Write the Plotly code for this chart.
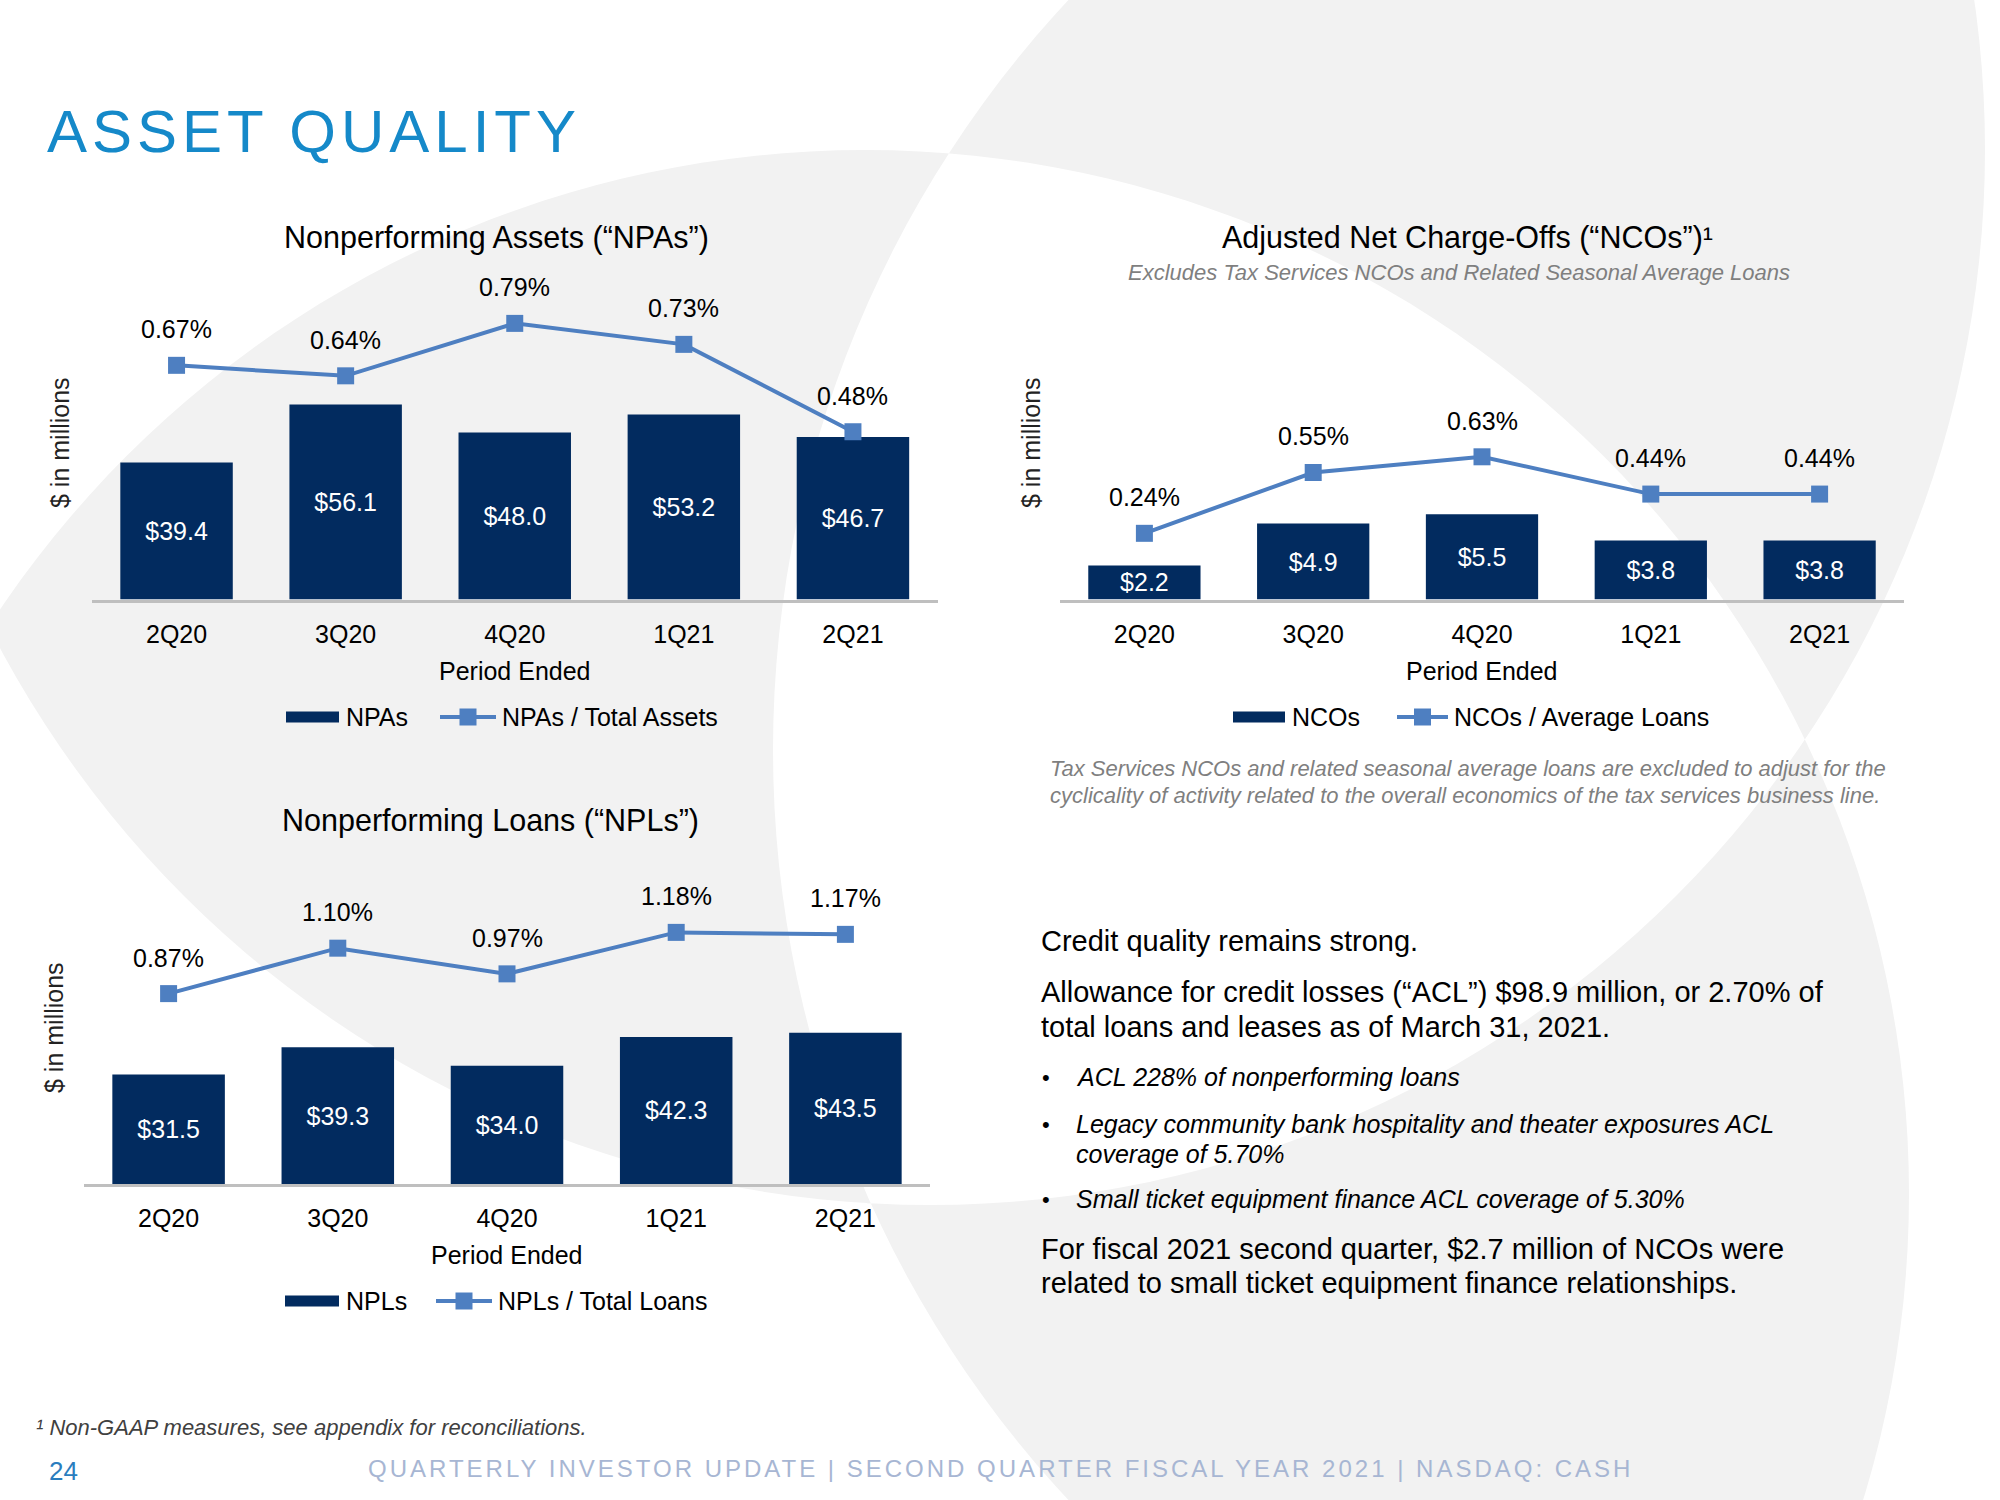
import numpy as np
import plotly.graph_objects as go

W, H = 2000, 1500

# ---------------- data ----------------
quarters = ["2Q20", "3Q20", "4Q20", "1Q21", "2Q21"]
npa_values = [39.4, 56.1, 48.0, 53.2, 46.7]
npa_ratio = [0.67, 0.64, 0.79, 0.73, 0.48]
nco_values = [2.2, 4.9, 5.5, 3.8, 3.8]
nco_ratio = [0.24, 0.55, 0.63, 0.44, 0.44]
npl_values = [31.5, 39.3, 34.0, 42.3, 43.5]
npl_ratio = [0.87, 1.10, 0.97, 1.18, 1.17]

NAVY = "#022B5F"
BLUE = "#4E7FC1"
AXIS = "#BFBFBF"
BG = "#F2F2F2"
FONT = "Liberation Sans, Arial, sans-serif"
FS = 25  # chart text size


def px(x):
    return x / W


def py(y):
    return 1 - y / H


fig = go.Figure()

# panels: (xaxis, yaxis, y2axis, x0, x1, base, top, yrange, y2range, values, ratio)
panels = [
    ("x", "y", "y2", 92, 937.5, 599.5, 250, [0, 100.5], [0, 1.0], npa_values, npa_ratio),
    ("x2", "y3", "y4", 1060, 1904, 599.5, 250, [0, 22.55], [-0.0973, 1.684], nco_values, nco_ratio),
    ("x3", "y5", "y6", 84, 930, 1184, 834.5, [0, 100.5], [-0.094, 1.6756], npl_values, npl_ratio),
]

annotations = []
layout_axes = {}
for xa, ya, y2a, x0, x1, base, top, yr, y2r, vals, ratio in panels:
    fig.add_trace(go.Bar(
        x=quarters, y=vals, xaxis=xa, yaxis=ya, width=0.665,
        marker=dict(color=NAVY, line=dict(width=0)),
        text=[f"${v:.1f}" for v in vals], textposition="inside",
        insidetextanchor="middle", textangle=0, constraintext="none",
        textfont=dict(color="white", size=FS, family=FONT),
        showlegend=False, hoverinfo="skip",
    ))
    fig.add_trace(go.Scatter(
        x=quarters, y=ratio, xaxis=xa, yaxis=y2a, mode="lines+markers",
        line=dict(color=BLUE, width=4),
        marker=dict(symbol="square", size=17, color=BLUE),
        showlegend=False, hoverinfo="skip", cliponaxis=False,
    ))
    for q, r in zip(quarters, ratio):
        annotations.append(dict(
            x=q, y=r, xref=xa, yref=y2a, yshift=36, text=f"{r:.2f}%",
            showarrow=False, font=dict(size=FS, color="#000", family=FONT),
            xanchor="center", yanchor="middle"))
    xkey = "xaxis" + xa[1:]
    ykey = "yaxis" + ya[1:]
    y2key = "yaxis" + y2a[1:]
    layout_axes[xkey] = dict(
        domain=[px(x0), px(x1)], anchor=ya, showline=True, linecolor=AXIS,
        linewidth=3, showgrid=False, zeroline=False, ticks="",
        tickfont=dict(size=FS, color="#000", family=FONT),
        ticklabelstandoff=10, fixedrange=True)
    layout_axes[ykey] = dict(
        domain=[py(base), py(top)], anchor=xa, range=yr, visible=False,
        fixedrange=True)
    layout_axes[y2key] = dict(
        domain=[py(base), py(top)], anchor=xa, overlaying=ya, side="right",
        range=y2r, visible=False, fixedrange=True)


def A(text, x, y, size=FS, color="#000", xanchor="left", yanchor="middle",
      angle=0):
    annotations.append(dict(
        text=text, x=px(x), y=py(y), xref="paper", yref="paper",
        showarrow=False, xanchor=xanchor, yanchor=yanchor, textangle=angle,
        font=dict(size=size, color=color, family=FONT)))


# titles
A('<span style="letter-spacing:5px">ASSET QUALITY</span>', 45, 131, size=60,
  color="#1589C9")
A("Nonperforming Assets (“NPAs”)", 496, 237, size=30.5, xanchor="center")
A("Adjusted Net Charge-Offs (“NCOs”)¹", 1467, 237, size=30.5, xanchor="center")
A("<i>Excludes Tax Services NCOs and Related Seasonal Average Loans</i>", 1459,
  272, size=22, color="#7F7F7F", xanchor="center")
A("Nonperforming Loans (“NPLs”)", 490, 820, size=30.5, xanchor="center")

# axis titles
for xc, yc in [(60, 443), (1031, 443), (54, 1028)]:
    A("$ in millions", xc, yc, size=FS, color="#222", xanchor="center", angle=-90)
for xc, yc in [(514.75, 671), (1482, 671), (507, 1255)]:
    A("Period Ended", xc, yc, size=FS, xanchor="center")

# legends
shapes = []
legends = [
    (717, 286, 339, "NPAs", 440, 496, "NPAs / Total Assets"),
    (717, 1233, 1285, "NCOs", 1397, 1448, "NCOs / Average Loans"),
    (1301, 285, 339, "NPLs", 436, 492, "NPLs / Total Loans"),
]
for yc, b0, b1, t1, l0, l1, t2 in legends:
    shapes.append(dict(type="rect", xref="paper", yref="paper", x0=px(b0),
                       x1=px(b1), y0=py(yc + 5.5), y1=py(yc - 5.5),
                       fillcolor=NAVY, line=dict(width=0)))
    A(t1, b1 + 5, yc, size=FS)
    shapes.append(dict(type="line", xref="paper", yref="paper", x0=px(l0),
                       x1=px(l1), y0=py(yc), y1=py(yc),
                       line=dict(color=BLUE, width=4)))
    mc = (l0 + l1) / 2
    shapes.append(dict(type="rect", xref="paper", yref="paper", x0=px(mc - 8.5),
                       x1=px(mc + 8.5), y0=py(yc + 8.5), y1=py(yc - 8.5),
                       fillcolor=BLUE, line=dict(width=0)))
    A(t2, l1 + 4, yc, size=FS)

# note under NCO chart
A("<i>Tax Services NCOs and related seasonal average loans are excluded to adjust for the</i>",
  1048, 768, size=22, color="#7F7F7F")
A("<i>cyclicality of activity related to the overall economics of the tax services business line.</i>",
  1048, 795, size=22, color="#7F7F7F")

# right text block
A("Credit quality remains strong.", 1038.5, 941, size=29)
A("Allowance for credit losses (“ACL”) $98.9 million, or 2.70% of", 1038.5, 992, size=29)
A("total loans and leases as of March 31, 2021.", 1038.5, 1027, size=29)
for yb in [1077, 1124, 1199]:
    A("•", 1040, yb, size=22)
A("<i>ACL 228% of nonperforming loans</i>", 1074, 1077, size=25)
A("<i>Legacy community bank hospitality and theater exposures ACL</i>", 1074, 1124, size=25)
A("<i>coverage of 5.70%</i>", 1074, 1154, size=25)
A("<i>Small ticket equipment finance ACL coverage of 5.30%</i>", 1074, 1199, size=25)
A("For fiscal 2021 second quarter, $2.7 million of NCOs were", 1038.5, 1249, size=29)
A("related to small ticket equipment finance relationships.", 1038.5, 1283, size=29)

# footer
A("<i>¹ Non-GAAP measures, see appendix for reconciliations.</i>", 34, 1427,
  size=22, color="#404040")
A("24", 47, 1471, size=26, color="#2A7DBE")
A('<span style="letter-spacing:3px">QUARTERLY INVESTOR UPDATE | SECOND QUARTER FISCAL YEAR 2021 | NASDAQ: CASH</span>',
  1000, 1468, size=24, color="#A7B6D3", xanchor="center")


# decorative background (three overlapping circles, gray where two overlap)
def circle_path(cx, cy, r, n=240):
    t = np.linspace(0, 2 * np.pi, n, endpoint=False)
    xs = (cx + r * np.cos(t)) / W
    ys = 1 - (cy + r * np.sin(t)) / H
    return "M" + " L".join(f"{a:.5f},{b:.5f}" for a, b in zip(xs, ys)) + " Z"


bg_path = "M0,0 L1,0 L1,1 L0,1 Z " + " ".join([
    circle_path(865, 1194, 1044),
    circle_path(1873, 750, 1100),
    circle_path(930, 150, 1055),
])
shapes.insert(0, dict(type="path", xref="paper", yref="paper", path=bg_path,
                      fillcolor=BG, line=dict(width=0), layer="below",
                      fillrule="evenodd"))

fig.update_layout(
    width=W, height=H, margin=dict(l=0, r=0, t=0, b=0),
    paper_bgcolor="white", plot_bgcolor="rgba(0,0,0,0)",
    font=dict(family=FONT, color="#000"),
    showlegend=False, annotations=annotations, shapes=shapes,
    **layout_axes,
)

fig.write_html("out.html", config={"displayModeBar": False},
               post_script="document.body.style.margin='0';")
